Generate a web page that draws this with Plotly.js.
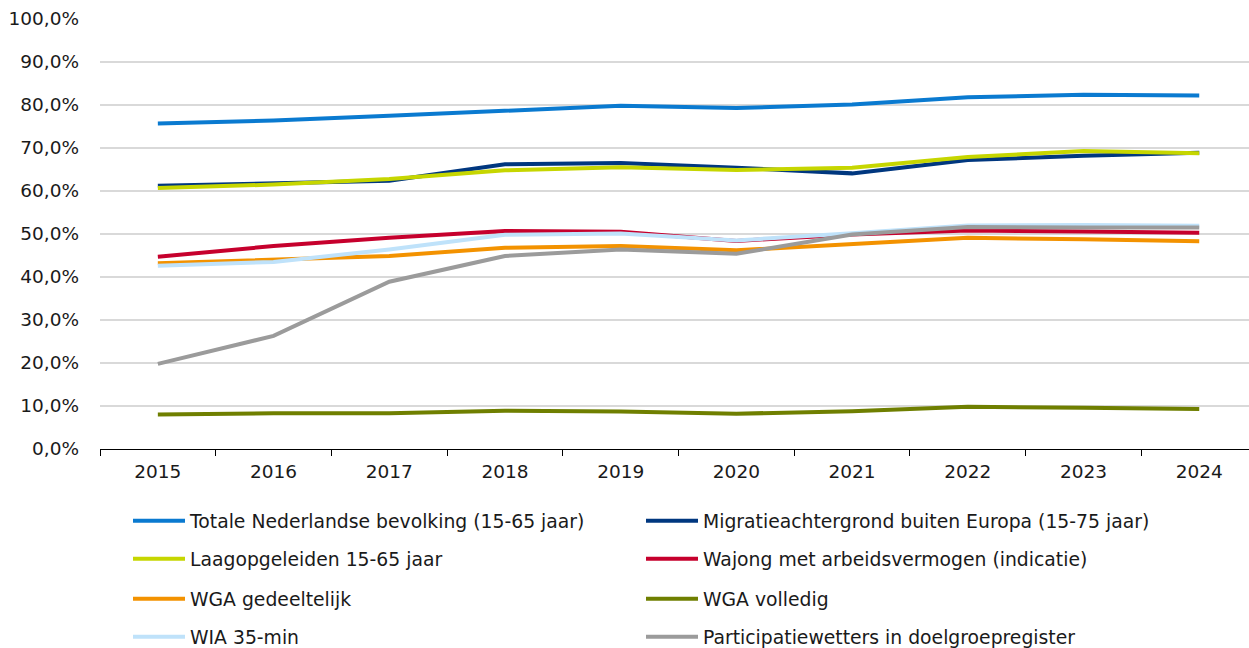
<!DOCTYPE html>
<html>
<head>
<meta charset="utf-8">
<script src="https://cdn.plot.ly/plotly-3.0.1.min.js"></script>
<style>html,body{margin:0;padding:0;background:#fff;}#chart{width:1249px;height:648px;}</style>
</head>
<body>
<div id="chart"></div>
<script>
const years = ['2015','2016','2017','2018','2019','2020','2021','2022','2023','2024'];

const seriesNames = [
  'Totale Nederlandse bevolking (15-65 jaar)',
  'Migratieachtergrond buiten Europa (15-75 jaar)',
  'Laagopgeleiden 15-65 jaar',
  'Wajong met arbeidsvermogen (indicatie)',
  'WGA gedeeltelijk',
  'WGA volledig',
  'WIA 35-min',
  'Participatiewetters in doelgroepregister'
];

const totaleBevolking   = [75.7, 76.4, 77.5, 78.7, 79.8, 79.3, 80.1, 81.8, 82.4, 82.2];
const migratieBuitenEU  = [61.2, 61.8, 62.4, 66.2, 66.5, 65.4, 64.1, 67.2, 68.2, 68.9];
const laagopgeleiden    = [60.7, 61.5, 62.8, 64.8, 65.5, 64.9, 65.4, 67.9, 69.3, 68.8];
const wajong            = [44.7, 47.2, 49.1, 50.7, 50.5, 48.4, 49.9, 50.8, 50.6, 50.3];
const wgaGedeeltelijk   = [43.2, 44.1, 44.9, 46.8, 47.2, 46.2, 47.7, 49.1, 48.8, 48.3];
const wgaVolledig       = [8.0, 8.3, 8.3, 8.9, 8.7, 8.2, 8.8, 9.8, 9.6, 9.3];
const wia35min          = [42.6, 43.5, 46.4, 49.8, 50.1, 48.5, 50.2, 52.0, 52.1, 51.9];
const participatiewet   = [19.8, 26.3, 38.9, 44.9, 46.4, 45.4, 49.9, 51.6, 51.5, 51.5];

const seriesValues = [totaleBevolking, migratieBuitenEU, laagopgeleiden, wajong,
                      wgaGedeeltelijk, wgaVolledig, wia35min, participatiewet];
const seriesColors = ['#0a7ad0', '#00377f', '#c6d600', '#c6002d',
                      '#f39200', '#6f7f00', '#bfe2fa', '#9b9b9b'];

const yTicks = [0, 10, 20, 30, 40, 50, 60, 70, 80, 90, 100];
const yTickLabels = yTicks.map(v => v.toFixed(1).replace('.', ',') + '%');

const legendIds = ['legend', 'legend2', 'legend3', 'legend4'];

const traces = seriesNames.map((name, i) => ({
  type: 'scatter',
  mode: 'lines',
  name: name,
  x: years,
  y: seriesValues[i],
  line: {color: seriesColors[i], width: 4},
  legend: legendIds[Math.floor(i / 2)],
  hovertemplate: '%{x}: %{y:.1f}%<extra>' + name + '</extra>'
}));

const W = 1249, H = 648;
const plotTop = 19, plotBottom = 449;
const rowCenters = [521, 559, 599, 637];
const FONT = 'DejaVu Sans, Verdana, sans-serif';
const TXT = '#1a1a1a';

function legendCfg(row) {
  return {
    orientation: 'h',
    xref: 'container',
    yref: 'container',
    x: 128 / W,
    xanchor: 'left',
    y: (H - rowCenters[row]) / H,
    yanchor: 'middle',
    entrywidth: 446,
    entrywidthmode: 'pixels',
    itemwidth: 52,
    font: {family: FONT, size: 18.8, color: TXT},
    bgcolor: 'rgba(0,0,0,0)',
    traceorder: 'normal',
    itemclick: false,
    itemdoubleclick: false
  };
}

const layout = {
  width: W,
  height: H,
  margin: {l: 100, r: 0, t: plotTop, b: H - plotBottom, autoexpand: false},
  paper_bgcolor: '#ffffff',
  plot_bgcolor: '#ffffff',
  font: {family: FONT, size: 18.5, color: TXT},
  showlegend: true,
  legend: legendCfg(0),
  legend2: legendCfg(1),
  legend3: legendCfg(2),
  legend4: legendCfg(3),
  xaxis: {
    type: 'category',
    range: [-0.5, 9.43],
    showgrid: false,
    zeroline: false,
    showline: true,
    linecolor: '#000000',
    linewidth: 1,
    ticks: 'outside',
    tickson: 'boundaries',
    ticklen: 6,
    tickcolor: '#000000',
    tickwidth: 1,
    ticklabelstandoff: 6,
    tickfont: {family: FONT, size: 18.5, color: TXT},
    fixedrange: true
  },
  yaxis: {
    range: [0, 100],
    tickvals: yTicks,
    ticktext: yTickLabels,
    showgrid: true,
    gridcolor: '#d9d9d9',
    gridwidth: 1.5,
    zeroline: false,
    showline: false,
    ticks: '',
    ticklabelstandoff: 20,
    tickfont: {family: FONT, size: 18.5, color: TXT},
    fixedrange: true
  }
};

Plotly.newPlot('chart', traces, layout, {displayModeBar: false, responsive: false});
</script>
</body>
</html>
